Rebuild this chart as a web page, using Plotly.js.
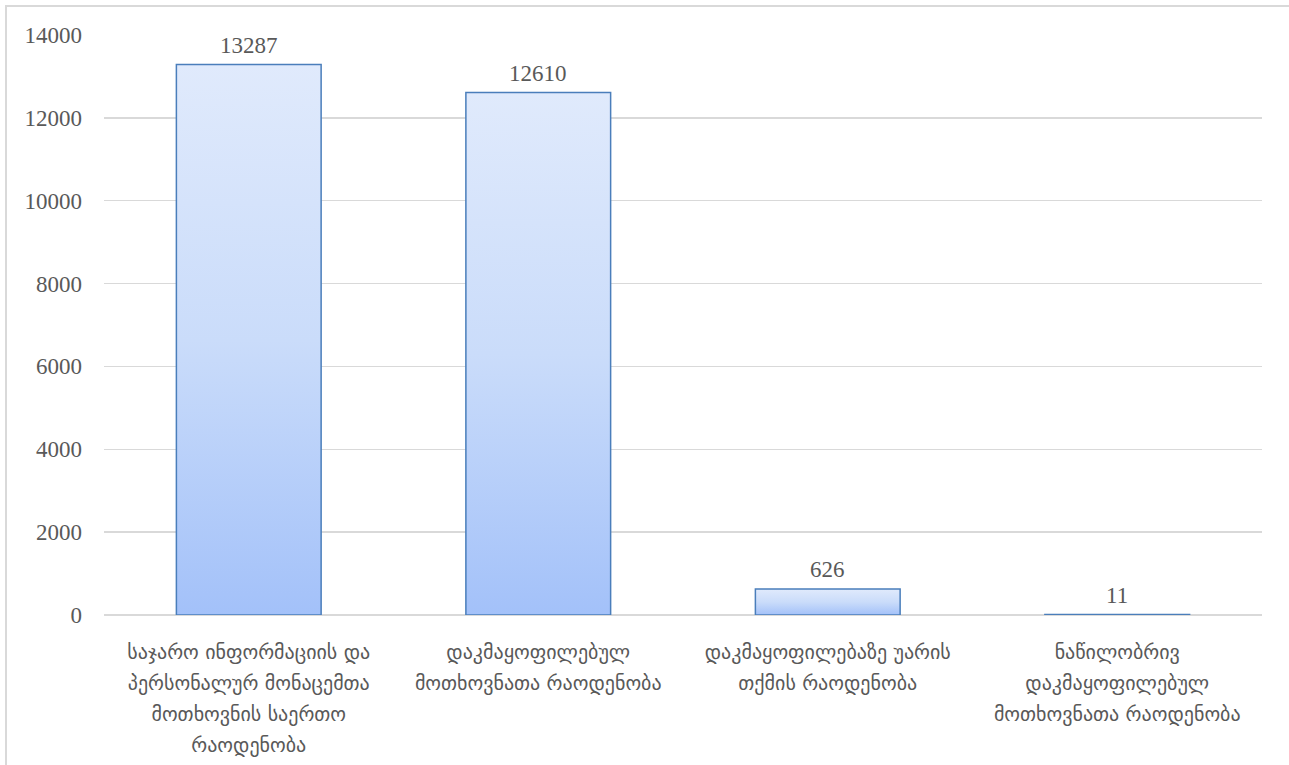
<!DOCTYPE html>
<html>
<head>
<meta charset="utf-8">
<script src="https://cdn.plot.ly/plotly-3.0.1.min.js"></script>
<style>
  html, body { margin: 0; padding: 0; background: #fff; overflow: hidden; }
  #frame { position: absolute; left: 5px; top: 5px; width: 1300px; height: 800px; border-left: 2px solid #d9d9d9; border-top: 2px solid #d9d9d9; box-sizing: border-box; pointer-events: none; z-index: 5; }
  #chart { position: absolute; left: 0; top: 0; width: 1289px; height: 765px; }
</style>
</head>
<body>
<div id="chart"></div>
<div id="frame"></div>
<script>
const categories = [
  "საჯარო ინფორმაციის და<br>პერსონალურ მონაცემთა<br>მოთხოვნის საერთო<br>რაოდენობა",
  "დაკმაყოფილებულ<br>მოთხოვნათა რაოდენობა",
  "დაკმაყოფილებაზე უარის<br>თქმის რაოდენობა",
  "ნაწილობრივ<br>დაკმაყოფილებულ<br>მოთხოვნათა რაოდენობა"
];
const values = [13287, 12610, 626, 11];
const yTickVals = [0, 2000, 4000, 6000, 8000, 10000, 12000, 14000];

const fontFam = "'Liberation Serif', 'DejaVu Serif', serif";

const trace = {
  type: 'bar',
  x: categories,
  y: values,
  marker: { color: '#c4d7fa', line: { color: '#4a7ebb', width: 1.5 } },
  hoverinfo: 'none'
};

const annotations = categories.map(function (c, i) {
  return {
    x: c, y: values[i], xref: 'x', yref: 'y',
    text: String(values[i]), showarrow: false,
    yanchor: 'bottom', yshift: 5,
    font: { family: fontFam, size: 23, color: '#595959' }
  };
});

const layout = {
  width: 1289, height: 765,
  margin: { l: 104, r: 27, t: 35, b: 150 },
  paper_bgcolor: '#fff', plot_bgcolor: '#fff',
  bargap: 0.5,
  showlegend: false,
  font: { family: fontFam, color: '#595959' },
  annotations: annotations,
  xaxis: {
    tickfont: { family: "'DejaVu Sans', 'Noto Sans', sans-serif", size: 20, color: '#595959' },
    showgrid: false, zeroline: false, showline: false, ticks: '',
    ticklabelstandoff: 23
  },
  yaxis: {
    range: [0, 14000],
    tickvals: yTickVals,
    ticktext: yTickVals.map(String),
    tickfont: { family: fontFam, size: 23, color: '#595959' },
    gridcolor: '#d9d9d9', gridwidth: 1.5,
    zeroline: true, zerolinecolor: '#d9d9d9', zerolinewidth: 1.5,
    showline: false, ticks: '',
    ticklabelstandoff: 21
  }
};

Plotly.newPlot('chart', [trace], layout, { staticPlot: true, displayModeBar: false }).then(function (gd) {
  const svg = gd.querySelector('svg.main-svg');
  const ns = 'http://www.w3.org/2000/svg';
  let defs = svg.querySelector('defs');
  if (!defs) { defs = document.createElementNS(ns, 'defs'); svg.insertBefore(defs, svg.firstChild); }
  const grad = document.createElementNS(ns, 'linearGradient');
  grad.setAttribute('id', 'barGrad');
  grad.setAttribute('x1', '0'); grad.setAttribute('y1', '0');
  grad.setAttribute('x2', '0'); grad.setAttribute('y2', '1');
  [['0', '#e0eafc'], ['0.5', '#cadcfa'], ['1', '#a3c1f9']].forEach(function (s) {
    const st = document.createElementNS(ns, 'stop');
    st.setAttribute('offset', s[0]);
    st.setAttribute('stop-color', s[1]);
    grad.appendChild(st);
  });
  defs.appendChild(grad);
  gd.querySelectorAll('.bars .point path').forEach(function (p) {
    p.style.fill = 'url(#barGrad)';
  });
  // wider line spacing for multi-line category labels
  gd.querySelectorAll('.xtick text').forEach(function (t) {
    t.querySelectorAll('tspan.line').forEach(function (ln, i) {
      ln.setAttribute('dy', (i * 1.55) + 'em');
    });
  });
});
</script>
</body>
</html>
